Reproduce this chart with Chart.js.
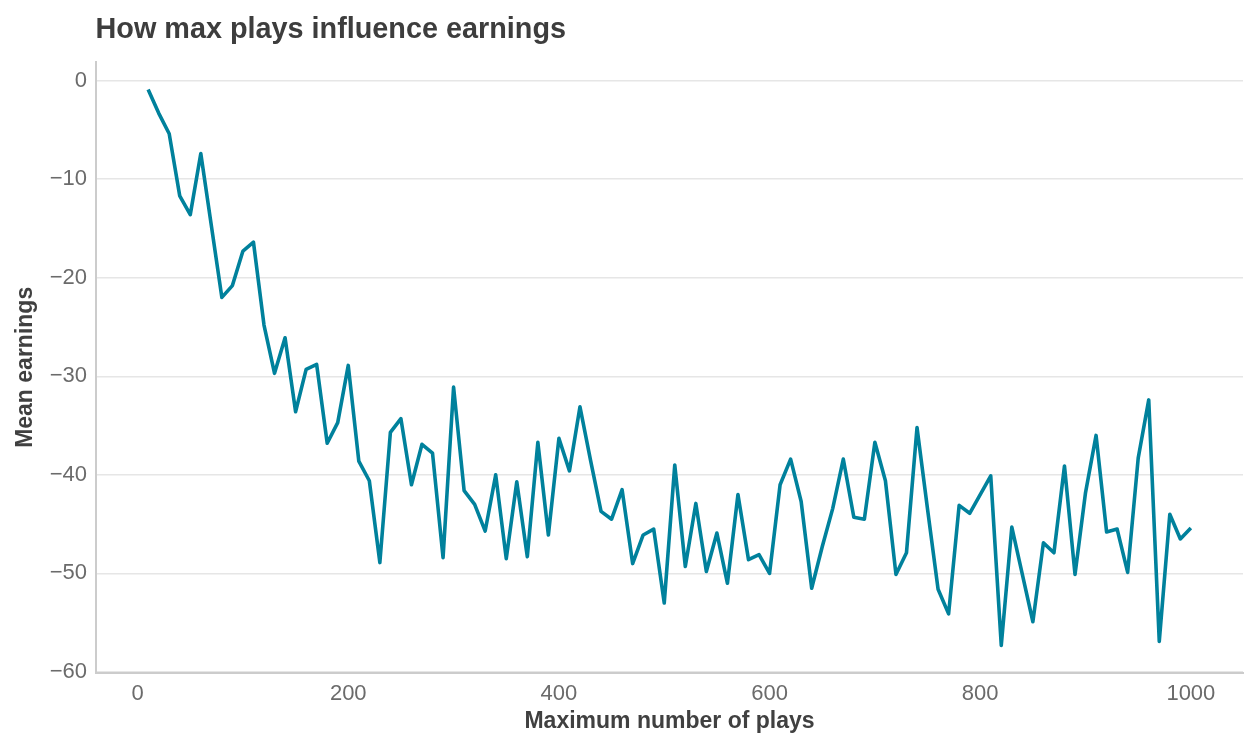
<!DOCTYPE html>
<html>
<head>
<meta charset="utf-8">
<script src="https://cdn.jsdelivr.net/npm/chart.js@4.4.0/dist/chart.umd.min.js"></script>
<style>
  html, body { margin: 0; padding: 0; background: #ffffff; }
  #wrap { width: 1258px; height: 748px; position: relative; }
</style>
</head>
<body>
<div id="wrap"><canvas id="c"></canvas></div>
<script>
const chartTitle = "How max plays influence earnings";
const xTitle = "Maximum number of plays";
const yTitle = "Mean earnings";

const maxPlays = [
  10, 20, 30, 40, 50, 60, 70, 80, 90, 100,
  110, 120, 130, 140, 150, 160, 170, 180, 190, 200,
  210, 220, 230, 240, 250, 260, 270, 280, 290, 300,
  310, 320, 330, 340, 350, 360, 370, 380, 390, 400,
  410, 420, 430, 440, 450, 460, 470, 480, 490, 500,
  510, 520, 530, 540, 550, 560, 570, 580, 590, 600,
  610, 620, 630, 640, 650, 660, 670, 680, 690, 700,
  710, 720, 730, 740, 750, 760, 770, 780, 790, 800,
  810, 820, 830, 840, 850, 860, 870, 880, 890, 900,
  910, 920, 930, 940, 950, 960, 970, 980, 990, 1000
];

const meanEarnings = [
  -0.9, -3.3, -5.4, -11.7, -13.6, -7.4, -14.7, -22.0, -20.8, -17.3,
  -16.4, -24.8, -29.7, -26.1, -33.6, -29.3, -28.8, -36.8, -34.7, -28.9,
  -38.6, -40.6, -48.9, -35.7, -34.3, -41.0, -36.9, -37.8, -48.4, -31.1,
  -41.6, -43.0, -45.7, -40.0, -48.5, -40.7, -48.3, -36.7, -46.1, -36.3,
  -39.6, -33.1, -38.5, -43.7, -44.5, -41.5, -49.0, -46.1, -45.5, -53.0,
  -39.0, -49.3, -42.9, -49.8, -45.9, -51.0, -42.0, -48.6, -48.1, -50.0,
  -41.0, -38.4, -42.7, -51.5, -47.3, -43.4, -38.4, -44.3, -44.5, -36.7,
  -40.6, -50.1, -47.9, -35.2, -43.5, -51.6, -54.1, -43.1, -43.9, -42.0,
  -40.1, -57.3, -45.3, -50.1, -54.9, -46.9, -47.9, -39.1, -50.1, -41.8,
  -36.0, -45.8, -45.5, -49.9, -38.3, -32.4, -56.9, -44.0, -46.5, -45.4
];

const xTicks = [0, 200, 400, 600, 800, 1000];
const yTicks = [-60, -50, -40, -30, -20, -10, 0];

const points = maxPlays.map((x, i) => ({ x: x, y: meanEarnings[i] }));

const fmt = v => String(v).replace('-', '\u2212');

const titlePlugin = {
  id: 'leftTitle',
  afterDraw(chart) {
    const ctx = chart.ctx;
    ctx.save();
    ctx.font = 'bold 28.8px "Liberation Sans", Arial, sans-serif';
    ctx.fillStyle = '#3d3d3d';
    ctx.textBaseline = 'alphabetic';
    ctx.textAlign = 'left';
    ctx.fillText(chartTitle, 95.5, 38.3);
    ctx.restore();
  }
};

new Chart(document.getElementById('c'), {
  type: 'line',
  data: {
    datasets: [{
      data: points,
      borderColor: '#00819c',
      borderWidth: 3.6,
      pointRadius: 0,
      pointHoverRadius: 0,
      fill: false,
      tension: 0,
      borderJoinStyle: 'round',
      borderCapStyle: 'butt'
    }]
  },
  options: {
    responsive: true,
    maintainAspectRatio: false,
    animation: false,
    devicePixelRatio: 1,
    layout: { padding: { top: 62, right: 15, left: 0, bottom: 0 } },
    plugins: {
      legend: { display: false },
      tooltip: { enabled: false },
      title: { display: false }
    },
    scales: {
      x: {
        type: 'linear',
        min: -39.5,
        max: 1049.5,
        afterBuildTicks: s => { s.ticks = xTicks.map(v => ({ value: v })); },
        afterFit: s => { s.height = 75.3; },
        grid: { display: false, drawTicks: false },
        border: { display: true, color: '#cccccc', width: 2 },
        ticks: {
          padding: 8,
          color: '#6b6b6b',
          font: { family: '"Liberation Sans", Arial, sans-serif', size: 22 },
          maxRotation: 0,
          callback: v => fmt(v)
        },
        title: {
          display: true,
          text: xTitle,
          color: '#404040',
          font: { family: '"Liberation Sans", Arial, sans-serif', size: 23, weight: 'bold' },
          padding: { top: 0, bottom: 13 }
        }
      },
      y: {
        type: 'linear',
        min: -60.07,
        max: 1.88,
        afterBuildTicks: s => { s.ticks = yTicks.map(v => ({ value: v })); },
        afterFit: s => { s.width = 96; },
        grid: { color: '#e6e6e6', lineWidth: 1.5, drawTicks: false },
        border: { display: true, color: '#cccccc', width: 2 },
        ticks: {
          padding: 9,
          color: '#6b6b6b',
          font: { family: '"Liberation Sans", Arial, sans-serif', size: 22 },
          callback: v => fmt(v)
        },
        title: {
          display: true,
          text: yTitle,
          color: '#404040',
          font: { family: '"Liberation Sans", Arial, sans-serif', size: 23, weight: 'bold' },
          padding: { top: 12, bottom: 0 }
        }
      }
    }
  },
  plugins: [titlePlugin]
});
</script>
</body>
</html>
